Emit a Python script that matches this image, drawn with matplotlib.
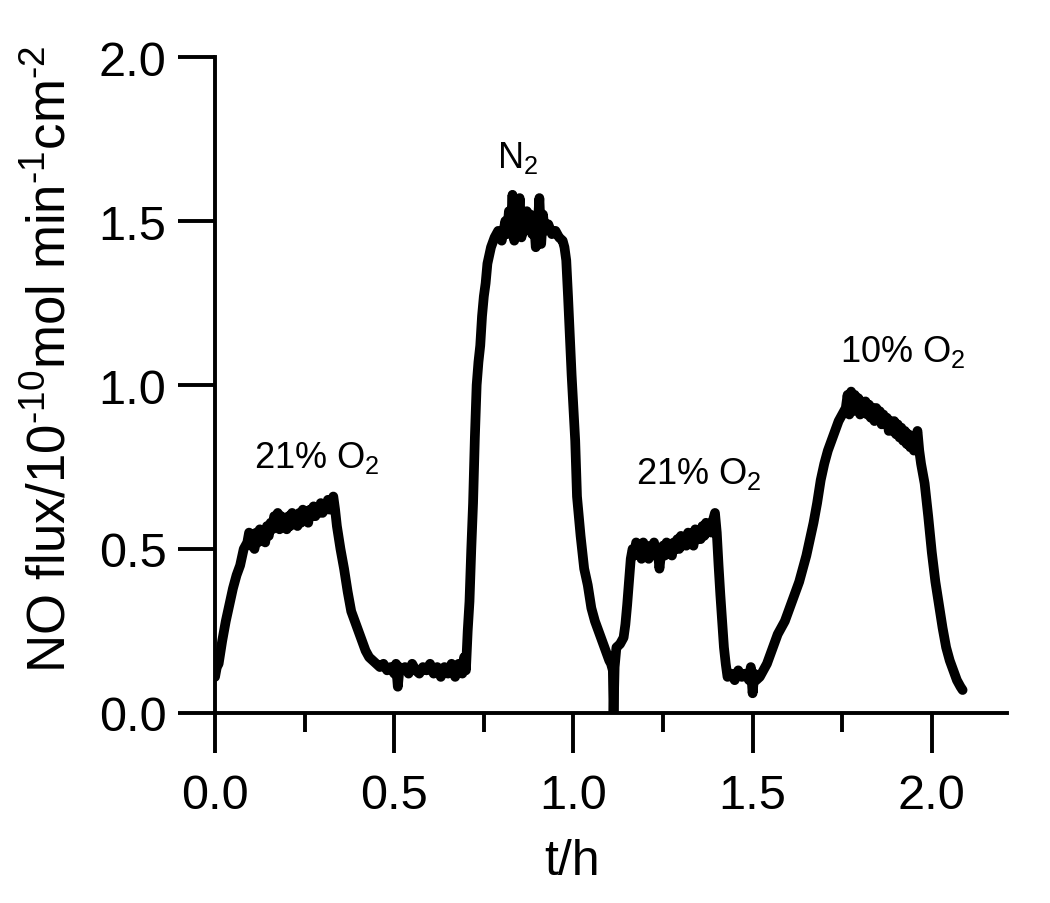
import matplotlib
matplotlib.use("Agg")
from matplotlib import pyplot as plt
from matplotlib.ticker import MultipleLocator

plt.rcParams["font.family"] = ["Liberation Sans", "DejaVu Sans"]
plt.rcParams["mathtext.fontset"] = "custom"
plt.rcParams["mathtext.rm"] = "Liberation Sans"
plt.rcParams["mathtext.it"] = "Liberation Sans"
plt.rcParams["mathtext.bf"] = "Liberation Sans"

# NO flux trace, piece by piece
# (t in h, flux in 1e-10 mol min^-1 cm^-2)

# first 21% O2 step
t_a = [0.000, 0.005, 0.010, 0.020, 0.030, 0.040, 0.050, 0.060, 0.070, 0.080,
       0.090, 0.095, 0.100, 0.105, 0.110, 0.115, 0.120, 0.125, 0.130, 0.135,
       0.140, 0.145, 0.150, 0.155, 0.160, 0.165, 0.170, 0.175, 0.180, 0.185,
       0.190, 0.195, 0.200, 0.205, 0.210, 0.215, 0.220, 0.225, 0.230, 0.235,
       0.240, 0.245, 0.250, 0.255, 0.260, 0.265, 0.270, 0.275, 0.280, 0.285,
       0.290, 0.295, 0.300, 0.305, 0.310, 0.315, 0.320, 0.325, 0.330]
f_a = [0.11, 0.14, 0.15, 0.22, 0.28, 0.33, 0.38, 0.42, 0.45, 0.50,
       0.52, 0.55, 0.51, 0.54, 0.50, 0.55, 0.52, 0.56, 0.53, 0.55,
       0.52, 0.57, 0.54, 0.58, 0.56, 0.60, 0.57, 0.61, 0.56, 0.60,
       0.57, 0.59, 0.56, 0.60, 0.57, 0.61, 0.58, 0.60, 0.57, 0.61,
       0.58, 0.62, 0.59, 0.61, 0.58, 0.62, 0.60, 0.63, 0.60, 0.62,
       0.61, 0.64, 0.61, 0.63, 0.62, 0.65, 0.62, 0.64, 0.66]

# decay and baseline
t_b = [0.335, 0.340, 0.350, 0.360, 0.370, 0.380, 0.390, 0.400, 0.410, 0.420,
       0.430, 0.440, 0.450, 0.460, 0.470, 0.480, 0.490, 0.500, 0.505, 0.510,
       0.515, 0.520, 0.530, 0.540, 0.550, 0.560, 0.570, 0.580, 0.590, 0.600,
       0.610, 0.620, 0.630, 0.640, 0.650, 0.660, 0.670, 0.680, 0.690, 0.695,
       0.700]
f_b = [0.62, 0.57, 0.50, 0.44, 0.37, 0.31, 0.28, 0.25, 0.22, 0.19,
       0.17, 0.16, 0.15, 0.14, 0.15, 0.13, 0.14, 0.12, 0.15, 0.08,
       0.14, 0.13, 0.14, 0.12, 0.15, 0.13, 0.12, 0.14, 0.13, 0.15,
       0.12, 0.14, 0.11, 0.14, 0.12, 0.15, 0.11, 0.15, 0.12, 0.17,
       0.13]

# N2 step
t_c = [0.705, 0.710, 0.715, 0.720, 0.725, 0.730, 0.735, 0.740, 0.745, 0.750,
       0.755, 0.760, 0.770, 0.780, 0.790, 0.800, 0.810, 0.815, 0.820, 0.825,
       0.830, 0.835, 0.840, 0.845, 0.850, 0.855, 0.860, 0.865, 0.870, 0.875,
       0.880, 0.885, 0.890, 0.895, 0.900, 0.905, 0.910, 0.915, 0.920, 0.930,
       0.940, 0.950, 0.960, 0.970, 0.975, 0.980, 0.985, 0.990, 0.995, 1.000,
       1.005, 1.010, 1.020, 1.030, 1.040, 1.050, 1.060, 1.070, 1.080, 1.090,
       1.100, 1.105, 1.110, 1.112, 1.115, 1.120, 1.130, 1.140, 1.145, 1.150,
       1.155, 1.160]
f_c = [0.25, 0.34, 0.50, 0.64, 0.84, 1.00, 1.07, 1.12, 1.21, 1.27,
       1.31, 1.37, 1.42, 1.45, 1.47, 1.44, 1.50, 1.46, 1.53, 1.47,
       1.58, 1.44, 1.52, 1.48, 1.57, 1.45, 1.51, 1.47, 1.53, 1.49,
       1.52, 1.46, 1.50, 1.42, 1.48, 1.57, 1.43, 1.52, 1.47, 1.49,
       1.46, 1.47, 1.45, 1.44, 1.42, 1.38, 1.27, 1.15, 1.03, 0.93,
       0.83, 0.66, 0.54, 0.44, 0.39, 0.32, 0.28, 0.25, 0.22, 0.19,
       0.16, 0.15, 0.13, 0.00, 0.14, 0.20, 0.21, 0.23, 0.27, 0.33,
       0.40, 0.47]

# second 21% O2 step
t_d = [1.165, 1.170, 1.175, 1.180, 1.185, 1.190, 1.195, 1.200, 1.205, 1.210,
       1.215, 1.220, 1.225, 1.230, 1.235, 1.240, 1.245, 1.250, 1.255, 1.260,
       1.265, 1.270, 1.275, 1.280, 1.285, 1.290, 1.295, 1.300, 1.305, 1.310,
       1.315, 1.320, 1.325, 1.330, 1.335, 1.340, 1.345, 1.350, 1.355, 1.360,
       1.365, 1.370, 1.375, 1.380, 1.385, 1.390, 1.395,
       1.400, 1.405, 1.410, 1.415, 1.420, 1.425, 1.430, 1.440, 1.450, 1.460,
       1.470, 1.480, 1.490, 1.495, 1.500, 1.505, 1.510, 1.520, 1.530, 1.540]
f_d = [0.50, 0.48, 0.52, 0.49, 0.51, 0.47, 0.52, 0.49, 0.51, 0.47,
       0.50, 0.48, 0.52, 0.48, 0.50, 0.44, 0.49, 0.51, 0.48, 0.52,
       0.49, 0.51, 0.48, 0.52, 0.50, 0.53, 0.50, 0.54, 0.51, 0.53,
       0.51, 0.55, 0.52, 0.54, 0.51, 0.56, 0.53, 0.55, 0.53, 0.57,
       0.54, 0.58, 0.55, 0.57, 0.55, 0.59, 0.61,
       0.55, 0.45, 0.36, 0.28, 0.20, 0.15, 0.11, 0.12, 0.10, 0.13,
       0.11, 0.12, 0.10, 0.14, 0.06, 0.12, 0.10, 0.11, 0.13, 0.15]

# 10% O2 step
t_e = [1.550, 1.560, 1.570, 1.580, 1.590, 1.600, 1.610, 1.620, 1.630, 1.640,
       1.650, 1.660, 1.670, 1.680, 1.690, 1.700, 1.710, 1.720, 1.730, 1.740,
       1.750, 1.760, 1.765, 1.770, 1.775, 1.780, 1.785, 1.790, 1.795, 1.800,
       1.805, 1.810, 1.815, 1.820, 1.825, 1.830, 1.835, 1.840, 1.845, 1.850,
       1.855, 1.860, 1.865, 1.870, 1.875, 1.880, 1.885, 1.890, 1.895, 1.900,
       1.905, 1.910, 1.915, 1.920, 1.925, 1.930, 1.935, 1.940, 1.945, 1.950,
       1.955, 1.960, 1.965, 1.970, 1.980, 1.990, 2.000, 2.010, 2.020, 2.030,
       2.040, 2.050, 2.060, 2.070, 2.080, 2.086]
f_e = [0.18, 0.21, 0.24, 0.26, 0.28, 0.31, 0.34, 0.37, 0.40, 0.44,
       0.48, 0.53, 0.58, 0.64, 0.71, 0.76, 0.80, 0.83, 0.86, 0.89,
       0.91, 0.93, 0.97, 0.91, 0.98, 0.92, 0.97, 0.93, 0.96, 0.91,
       0.95, 0.92, 0.95, 0.91, 0.94, 0.90, 0.93, 0.89, 0.93, 0.90,
       0.92, 0.88, 0.91, 0.88, 0.90, 0.86, 0.89, 0.86, 0.89, 0.85,
       0.88, 0.84, 0.87, 0.83, 0.86, 0.82, 0.85, 0.81, 0.84, 0.80,
       0.84, 0.86, 0.80, 0.76, 0.70, 0.60, 0.49, 0.40, 0.33, 0.26,
       0.20, 0.16, 0.13, 0.10, 0.08, 0.07]

t = t_a + t_b + t_c + t_d + t_e
flux = f_a + f_b + f_c + f_d + f_e

# gas labels
gas_labels = ["21% O$_2$", "N$_2$", "21% O$_2$", "10% O$_2$"]
gas_x = [0.285, 0.845, 1.35, 1.92]
gas_y = [0.75, 1.665, 0.70, 1.073]

fig = plt.figure(figsize=(10.5, 9.04), dpi=100)
ax = fig.add_axes([0.2048, 0.2102, 0.7543, 0.7256])

ax.plot(t, flux, color="black", lw=7, solid_joinstyle="round", solid_capstyle="round")

for lab, x, y in zip(gas_labels, gas_x, gas_y):
    ax.text(x, y, lab, fontsize=26, ha="center", va="baseline")

ax.set_xlim(0, 2.21)
ax.set_ylim(0, 2.0)
ax.xaxis.set_major_locator(MultipleLocator(0.5))
ax.xaxis.set_minor_locator(MultipleLocator(0.25))
ax.yaxis.set_major_locator(MultipleLocator(0.5))
ax.xaxis.set_major_formatter(plt.FuncFormatter(lambda v, p: f"{v:.1f}"))
ax.yaxis.set_major_formatter(plt.FuncFormatter(lambda v, p: f"{v:.1f}"))

for side in ["top", "right"]:
    ax.spines[side].set_visible(False)
for side in ["left", "bottom"]:
    ax.spines[side].set_linewidth(2.8)

ax.tick_params(axis="x", which="major", direction="out", length=29, width=2.8,
               labelsize=35, pad=14)
ax.tick_params(axis="x", which="minor", direction="out", length=14, width=2.8)
ax.tick_params(axis="y", which="major", direction="out", length=27, width=2.8,
               labelsize=35, pad=8)

ax.set_xlabel("t/h", fontsize=36)
ax.xaxis.set_label_coords(0.451, -0.19)
ax.set_ylabel("NO flux/10$^{\u2010 10}$mol min$^{\u2010 1}$cm$^{\u2010 2}$", fontsize=38)
ax.yaxis.set_label_coords(-0.175, 0.541)

plt.savefig("out.png")
plt.close()
